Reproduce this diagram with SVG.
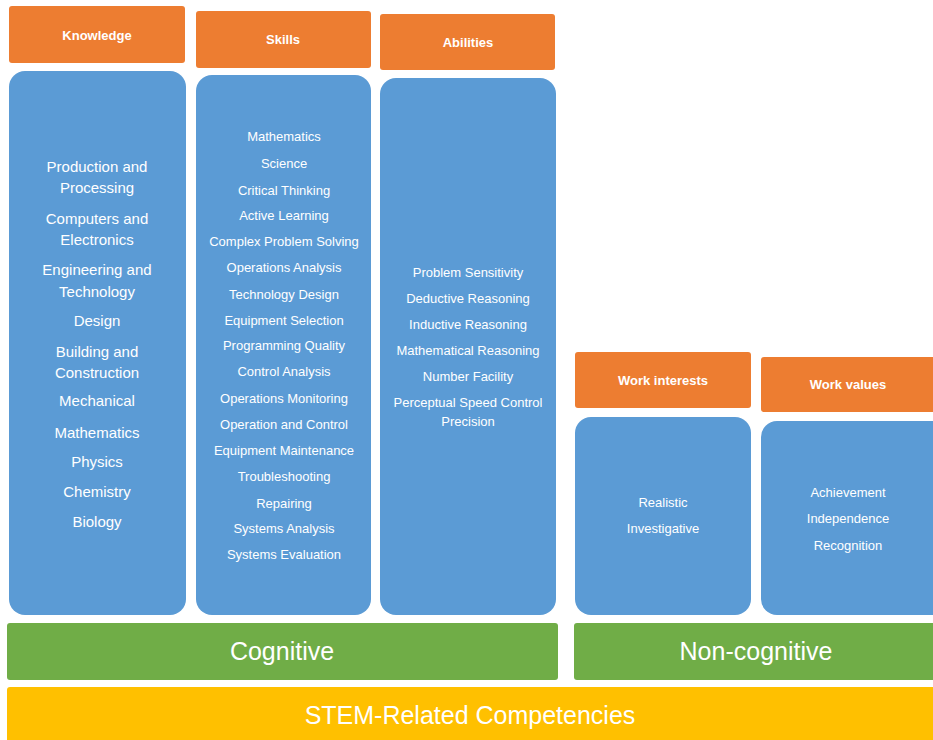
<svg xmlns="http://www.w3.org/2000/svg" width="933" height="740" viewBox="0 0 933 740">
<style>
.hd{fill:#ED7D31}
.bd{fill:#5B9BD5}
.gr{fill:#70AD47}
.yl{fill:#FFC000}
text{font-family:"Liberation Sans",Arial,sans-serif;fill:#fff;text-anchor:middle;dominant-baseline:central}
.h{font-size:13px;font-weight:bold}
.k{font-size:15px}
.s{font-size:13px}
.a{font-size:13px}
.big{font-size:25px}
</style>
<rect width="933" height="740" fill="#fff"/>
<g id="knowledge">
<rect class="hd" x="9" y="6" width="176" height="57" rx="3"/>
<text class="h" x="97" y="35">Knowledge</text>
<rect class="bd" x="9" y="71" width="177" height="544" rx="16"/>
<text class="k" x="97" y="166">Production and</text>
<text class="k" x="97" y="187">Processing</text>
<text class="k" x="97" y="218">Computers and</text>
<text class="k" x="97" y="239">Electronics</text>
<text class="k" x="97" y="269">Engineering and</text>
<text class="k" x="97" y="291">Technology</text>
<text class="k" x="97" y="320">Design</text>
<text class="k" x="97" y="351">Building and</text>
<text class="k" x="97" y="372">Construction</text>
<text class="k" x="97" y="400">Mechanical</text>
<text class="k" x="97" y="432">Mathematics</text>
<text class="k" x="97" y="461">Physics</text>
<text class="k" x="97" y="491">Chemistry</text>
<text class="k" x="97" y="521">Biology</text>
</g>
<g id="skills">
<rect class="hd" x="196" y="11" width="175" height="57" rx="3"/>
<text class="h" x="283" y="39">Skills</text>
<rect class="bd" x="196" y="75" width="175" height="540" rx="16"/>
<text class="s" x="284" y="136">Mathematics</text>
<text class="s" x="284" y="163">Science</text>
<text class="s" x="284" y="190">Critical Thinking</text>
<text class="s" x="284" y="215">Active Learning</text>
<text class="s" x="284" y="241">Complex Problem Solving</text>
<text class="s" x="284" y="267">Operations Analysis</text>
<text class="s" x="284" y="294">Technology Design</text>
<text class="s" x="284" y="320">Equipment Selection</text>
<text class="s" x="284" y="345">Programming Quality</text>
<text class="s" x="284" y="371">Control Analysis</text>
<text class="s" x="284" y="398">Operations Monitoring</text>
<text class="s" x="284" y="424">Operation and Control</text>
<text class="s" x="284" y="450">Equipment Maintenance</text>
<text class="s" x="284" y="476">Troubleshooting</text>
<text class="s" x="284" y="503">Repairing</text>
<text class="s" x="284" y="528">Systems Analysis</text>
<text class="s" x="284" y="554">Systems Evaluation</text>
</g>
<g id="abilities">
<rect class="hd" x="380" y="14" width="175" height="56" rx="3"/>
<text class="h" x="468" y="42">Abilities</text>
<rect class="bd" x="380" y="78" width="176" height="537" rx="16"/>
<text class="a" x="468" y="272">Problem Sensitivity</text>
<text class="a" x="468" y="298">Deductive Reasoning</text>
<text class="a" x="468" y="324">Inductive Reasoning</text>
<text class="a" x="468" y="350">Mathematical Reasoning</text>
<text class="a" x="468" y="376">Number Facility</text>
<text class="a" x="468" y="402">Perceptual Speed Control</text>
<text class="a" x="468" y="421">Precision</text>
</g>
<g id="work-interests">
<rect class="hd" x="575" y="352" width="176" height="56" rx="3"/>
<text class="h" x="663" y="380">Work interests</text>
<rect class="bd" x="575" y="417" width="176" height="198" rx="16"/>
<text class="a" x="663" y="502">Realistic</text>
<text class="a" x="663" y="528">Investigative</text>
</g>
<g id="work-values">
<rect class="hd" x="761" y="357" width="180" height="55" rx="3"/>
<text class="h" x="848" y="384">Work values</text>
<rect class="bd" x="761" y="421" width="190" height="194" rx="16"/>
<text class="a" x="848" y="492">Achievement</text>
<text class="a" x="848" y="518">Independence</text>
<text class="a" x="848" y="545">Recognition</text>
</g>
<g id="cognitive">
<rect class="gr" x="7" y="623" width="551" height="57" rx="3"/>
<text class="big" x="282" y="651">Cognitive</text>
</g>
<g id="non-cognitive">
<rect class="gr" x="574" y="623" width="370" height="57" rx="3"/>
<text class="big" x="756" y="651">Non-cognitive</text>
</g>
<g id="stem">
<rect class="yl" x="7" y="687" width="940" height="60" rx="3"/>
<text class="big" x="470" y="715">STEM-Related Competencies</text>
</g>
<g id="connectors"/>
</svg>
